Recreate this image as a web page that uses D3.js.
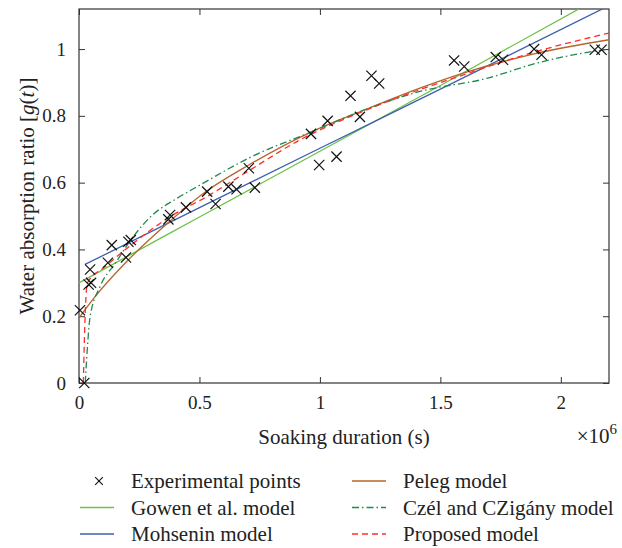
<!DOCTYPE html>
<html>
<head>
<meta charset="utf-8">
<script src="https://cdn.jsdelivr.net/npm/d3@7"></script>
<style>
  body { margin: 0; background: #fff; }
  svg, text { font-family: "Liberation Serif", "DejaVu Serif", serif; }
  text { fill: #222; }
</style>
</head>
<body>
<svg id="chart"></svg>
<script>
// soaking time is in units of 1e6 s
var expT = [0.022, 0.004, 0.04, 0.05, 0.046, 0.12, 0.136, 0.195, 0.205, 0.215, 0.371, 0.378, 0.444,
            0.532, 0.567, 0.62, 0.654, 0.705, 0.73, 0.963, 0.997, 1.032, 1.069, 1.127, 1.166, 1.214,
            1.246, 1.557, 1.599, 1.73, 1.76, 1.889, 1.92, 2.141, 2.169];
var expG = [0.0, 0.218, 0.295, 0.3, 0.34, 0.36, 0.413, 0.376, 0.423, 0.428, 0.49, 0.503, 0.526,
            0.573, 0.536, 0.588, 0.58, 0.643, 0.585, 0.746, 0.653, 0.785, 0.678, 0.86, 0.797, 0.92,
            0.897, 0.966, 0.948, 0.976, 0.968, 1.0, 0.983, 0.998, 0.998];

// model curves
var gowenT = [0, 0.5, 1.0, 1.5, 2.1];
var gowenG = [0.30, 0.497, 0.694, 0.891, 1.13];
var mohsT = [0.025, 0.5, 1.0, 1.5, 2.2];
var mohsG = [0.355, 0.525, 0.703, 0.88, 1.13];
var pelegT = [0, 0.066, 0.19, 0.336, 0.53, 0.71, 0.958, 1.2, 1.415, 1.595, 1.885, 2.2];
var pelegG = [0.195, 0.258, 0.358, 0.458, 0.575, 0.655, 0.75, 0.822, 0.883, 0.928, 0.985, 1.028];
var czelT = [0.026, 0.036, 0.046, 0.087, 0.15, 0.225, 0.3, 0.4, 0.5, 0.723, 0.958, 1.2, 1.415, 1.692, 1.9, 2.134, 2.2];
var czelG = [0.0, 0.118, 0.198, 0.288, 0.358, 0.438, 0.5, 0.55, 0.592, 0.68, 0.75, 0.822, 0.873, 0.912, 0.958, 0.993, 1.0];
var propT = [0.018, 0.022, 0.027, 0.035, 0.108, 0.19, 0.378, 0.53, 0.71, 0.917, 1.194, 1.609, 1.885, 2.2];
var propG = [0.0, 0.12, 0.23, 0.30, 0.348, 0.398, 0.498, 0.558, 0.638, 0.728, 0.818, 0.926, 0.99, 1.048];

var xTicks = [0, 0.5, 1, 1.5, 2];
var yTicks = [0, 0.2, 0.4, 0.6, 0.8, 1];

var margin = {top: 9, right: 13, bottom: 165, left: 79},
    width = 622 - margin.left - margin.right,
    height = 548 - margin.top - margin.bottom;

var svgRoot = d3.select("#chart")
    .attr("width", 622)
    .attr("height", 548);

var svg = svgRoot.append("g")
    .attr("transform", "translate(" + margin.left + "," + margin.top + ")");

var x = d3.scaleLinear().domain([0, 2.2]).range([0, width]);
var y = d3.scaleLinear().domain([0, 1.12]).range([height, 0]);

svg.append("clipPath").attr("id", "clip")
  .append("rect").attr("width", width).attr("height", height);

// axes with inward ticks on all four sides
function styleAxis(g) {
  g.attr("font-family", null).attr("font-size", null);
  g.select(".domain").remove();
  g.selectAll("line").attr("stroke", "#333");
  g.selectAll("text").style("font-size", "19px").attr("fill", "#222");
}
svg.append("g")
  .attr("transform", "translate(0," + height + ")")
  .call(d3.axisBottom(x).tickValues(xTicks).tickSize(-6).tickPadding(13).tickFormat(d3.format("")))
  .call(styleAxis);
svg.append("g")
  .call(d3.axisTop(x).tickValues(xTicks).tickSize(-6).tickFormat(""))
  .call(styleAxis);
svg.append("g")
  .call(d3.axisLeft(y).tickValues(yTicks).tickSize(-6).tickPadding(13).tickFormat(d3.format("")))
  .call(styleAxis);
svg.append("g")
  .attr("transform", "translate(" + width + ",0)")
  .call(d3.axisRight(y).tickValues(yTicks).tickSize(-6).tickFormat(""))
  .call(styleAxis);

svg.append("rect")
  .attr("width", width).attr("height", height)
  .attr("fill", "none").attr("stroke", "#333").attr("stroke-width", 1.2);

var models = [
  {name: "Gowen et al. model", t: gowenT, g: gowenG, color: "#6cc24a", dash: null},
  {name: "Mohsenin model", t: mohsT, g: mohsG, color: "#3d5fae", dash: null},
  {name: "Peleg model", t: pelegT, g: pelegG, color: "#b5652b", dash: null},
  {name: "Czél and CZigány model", t: czelT, g: czelG, color: "#1f8a4c", dash: "7,3,1.5,3"},
  {name: "Proposed model", t: propT, g: propG, color: "#ff2b2b", dash: "6,4"}
];

var line = d3.line()
  .x(d => x(d[0]))
  .y(d => y(d[1]))
  .curve(d3.curveMonotoneX);

var curves = svg.append("g").attr("clip-path", "url(#clip)");
models.forEach(function(m) {
  curves.append("path")
    .datum(m.t.map((t, i) => [t, m.g[i]]))
    .attr("d", line)
    .attr("fill", "none")
    .attr("stroke", m.color)
    .attr("stroke-width", 1.3)
    .attr("stroke-dasharray", m.dash);
});

// experimental points as crosses
var cross = d3.symbol().type(d3.symbolX).size(70);
svg.append("g").selectAll("path")
  .data(expT.map((t, i) => [t, expG[i]]))
  .enter()
  .append("path")
    .attr("transform", d => "translate(" + x(d[0]) + "," + y(d[1]) + ")")
    .attr("d", cross)
    .attr("fill", "none")
    .attr("stroke", "#111")
    .attr("stroke-width", 1.2);

// axis titles
svg.append("text")
  .attr("text-anchor", "middle")
  .attr("x", width / 2)
  .attr("y", height + 61)
  .style("font-size", "21px")
  .text("Soaking duration (s)");

var mult = svg.append("text")
  .attr("text-anchor", "end")
  .attr("x", width + 8)
  .attr("y", height + 60)
  .style("font-size", "21px");
mult.append("tspan").text("\u00d710");
mult.append("tspan").attr("dy", -9).style("font-size", "15px").text("6");

var ylab = svg.append("text")
  .attr("text-anchor", "middle")
  .attr("transform", "translate(-45," + (height / 2) + ")rotate(-90)")
  .style("font-size", "21px");
ylab.append("tspan").text("Water absorption ratio [");
ylab.append("tspan").style("font-style", "italic").text("g");
ylab.append("tspan").text("(");
ylab.append("tspan").style("font-style", "italic").text("t");
ylab.append("tspan").text(")]");

// legend
var legendItems = [
  {name: "Experimental points", marker: true},
  models[0], models[1], models[2], models[3], models[4]
];
var legend = svgRoot.append("g");
legendItems.forEach(function(d, i) {
  var col = i < 3 ? 0 : 1, row = i % 3;
  var lx = col === 0 ? 80 : 352, ly = 481 + row * 26.5;
  if (d.marker) {
    legend.append("path")
      .attr("transform", "translate(" + (lx + 19) + "," + ly + ")")
      .attr("d", d3.symbol().type(d3.symbolX).size(40))
      .attr("fill", "none").attr("stroke", "#111").attr("stroke-width", 1.1);
  } else {
    legend.append("line")
      .attr("x1", lx).attr("x2", lx + 34)
      .attr("y1", ly).attr("y2", ly)
      .attr("stroke", d.color).attr("stroke-width", 1.3)
      .attr("stroke-dasharray", d.dash);
  }
  legend.append("text")
    .attr("x", lx + 51)
    .attr("y", ly + 7)
    .style("font-size", "21px")
    .text(d.name);
});
</script>
</body>
</html>
